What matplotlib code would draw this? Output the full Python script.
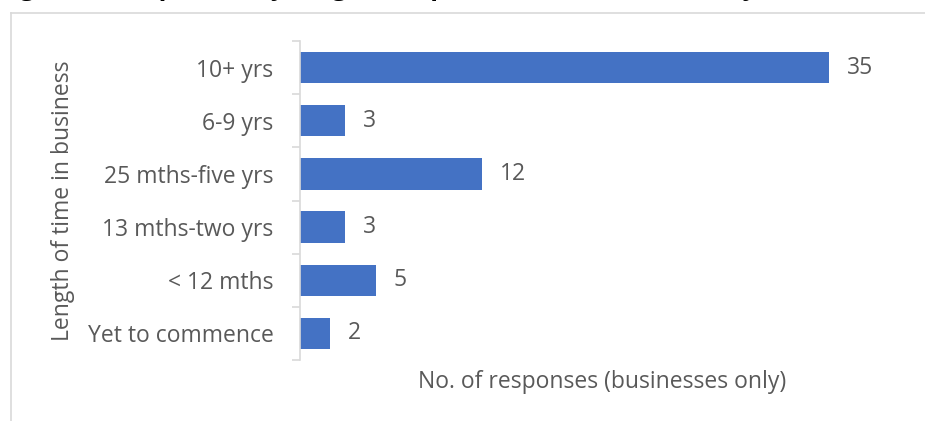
import matplotlib
matplotlib.use("Agg")
import matplotlib.pyplot as plt
from matplotlib.lines import Line2D
from matplotlib.ticker import FixedLocator, NullFormatter

plt.rcParams['font.family'] = ['Open Sans', 'DejaVu Sans']

# Data (top to bottom as shown)
categories = ["10+ yrs", "6-9 yrs", "25 mths-five yrs", "13 mths-two yrs",
              "< 12 mths", "Yet to commence"]
responses = [35, 3, 12, 3, 5, 2]

title = "Figure 8: Responses by length of operation (businesses only)"
x_label = "No. of responses (businesses only)"
y_label = "Length of time in business"

BAR = "#4472C4"
TEXT = "#595959"
GRID = "#D9D9D9"
FS = 16.5

W, H = 925, 421
fig = plt.figure(figsize=(W / 100, H / 100), dpi=100)

# Chart frame (top and left edges)
fig.add_artist(Line2D([11 / W, 1], [1 - 12.5 / H, 1 - 12.5 / H], color=GRID, lw=1.2,
                      transform=fig.transFigure))
fig.add_artist(Line2D([11 / W, 11 / W], [0, 1 - 12.5 / H], color=GRID, lw=1.2,
                      transform=fig.transFigure))

# Title, sitting above the top edge so only its descenders show
fig.text(-2 / W, 1.0 + 5.2 / H, title, ha="left", va="baseline", fontsize=18.5,
         fontweight="bold", color="black")

ax = fig.add_axes([300 / W, 1 - 360 / H, (905 - 300) / W, (360 - 41) / H])

n = len(categories)
ypos = list(range(n))
ax.barh(ypos, responses, height=0.59, color=BAR, zorder=2)
ax.set_ylim(n - 0.5, -0.5)
ax.set_xlim(0, 40)

for y, v in zip(ypos, responses):
    ax.annotate(str(v), (v, y), xytext=(13, 0), textcoords="offset points",
                ha="left", va="center", fontsize=FS, color=TEXT)

# Category axis: tick marks at category boundaries, labels at centers
ax.yaxis.set_major_locator(FixedLocator([i - 0.5 for i in range(n + 1)]))
ax.yaxis.set_major_formatter(NullFormatter())
ax.yaxis.set_minor_locator(FixedLocator(ypos))
ax.set_yticklabels(categories, minor=True)
ax.tick_params(axis="y", which="major", length=6, width=1.2, color=GRID)
ax.tick_params(axis="y", which="minor", length=0, pad=19, labelsize=FS,
               labelcolor=TEXT)

ax.set_xticks([])
for s in ("top", "right", "bottom"):
    ax.spines[s].set_visible(False)
ax.spines["left"].set_color(GRID)
ax.spines["left"].set_linewidth(1.2)

ax.set_xlabel(x_label, fontsize=FS, color=TEXT)
ax.xaxis.set_label_coords(0.5, -(382 - 360) / 319, transform=ax.transAxes)
ax.xaxis.label.set_va("center")
ax.set_ylabel(y_label, fontsize=FS, color=TEXT)
ax.yaxis.set_label_coords((63 - 300) / 605, 0.5, transform=ax.transAxes)
ax.yaxis.label.set_va("center")

fig.savefig("out.png", dpi=100)
